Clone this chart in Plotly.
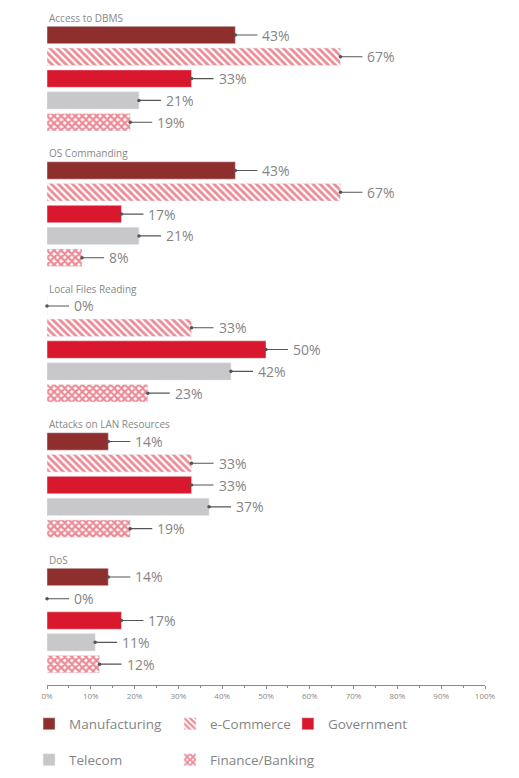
import plotly.graph_objects as go

groups = ["Access to DBMS", "OS Commanding", "Local Files Reading", "Attacks on LAN Resources", "DoS"]
sectors = ["Manufacturing", "e-Commerce", "Government", "Telecom", "Finance/Banking"]
manufacturing = [43, 43, 0, 14, 14]
ecommerce = [67, 67, 33, 33, 0]
government = [33, 17, 50, 33, 17]
telecom = [21, 21, 42, 37, 11]
finance = [19, 8, 23, 19, 12]
tick_vals = [0, 10, 20, 30, 40, 50, 60, 70, 80, 90, 100]
tick_text = [f"{v}%" for v in tick_vals]

series = [manufacturing, ecommerce, government, telecom, finance]

RED = "#D9182D"
styles = [
    dict(color="#8E2F2E"),
    dict(color="white", pattern=dict(shape="\\", fgcolor=RED, bgcolor="white", size=5, solidity=0.55)),
    dict(color=RED),
    dict(color="#C8C8CA"),
    dict(color="white", pattern=dict(shape="x", fgcolor=RED, bgcolor="white", size=5, solidity=0.7)),
]

PITCH = 6.215
def pos(g, i):
    return g * PITCH + i

legend_pos = [(-0.041, -0.0578), (0.281, -0.0578), (0.550, -0.0578),
              (-0.041, -0.111), (0.281, -0.111)]

fig = go.Figure()
annotations = []
for i, (name, vals, st) in enumerate(zip(sectors, series, styles)):
    lg = "legend" if i == 0 else f"legend{i+1}"
    fig.add_trace(go.Bar(
        name=name, orientation="h",
        x=vals, y=[pos(g, i) for g in range(len(groups))],
        width=0.8, marker=st, legend=lg,
        hoverinfo="skip",
    ))
    for g, v in enumerate(vals):
        annotations.append(dict(
            x=v, y=pos(g, i), xref="x", yref="y",
            text=f"{v}%", showarrow=True, ax=25, ay=0,
            xanchor="left", yanchor="middle",
            arrowhead=6, arrowsize=0.8, arrowwidth=1.1, arrowcolor="#555555",
            startstandoff=3,
            font=dict(family="Open Sans", size=14, color="#858585"),
        ))

for g, title in enumerate(groups):
    annotations.append(dict(
        x=0, y=g * PITCH - 0.78, xref="x", yref="y",
        text=title, showarrow=False, xanchor="left", yanchor="middle",
        font=dict(family="Open Sans", size=10, color="#888888"),
    ))

layout_legends = {}
for i, (lx, ly) in enumerate(legend_pos):
    key = "legend" if i == 0 else f"legend{i+1}"
    layout_legends[key] = dict(
        x=lx, y=ly, xanchor="left", yanchor="middle",
        xref="paper", yref="paper",
        orientation="h", bgcolor="rgba(0,0,0,0)",
        font=dict(family="Open Sans", size=13.5, color="#858585"),
        itemwidth=30,
    )

fig.update_layout(
    width=511, height=770,
    margin=dict(l=39, r=34, t=2, b=93, autoexpand=False),
    paper_bgcolor="white", plot_bgcolor="white",
    barmode="overlay",
    showlegend=True,
    annotations=annotations,
    xaxis=dict(
        range=[0, 100], tickvals=tick_vals, ticktext=tick_text,
        showgrid=False, zeroline=False,
        showline=True, linecolor="#8a8a8a", linewidth=1,
        ticks="outside", ticklen=3, tickcolor="#8a8a8a",
        minor=dict(dtick=5, ticks="outside", ticklen=2, tickcolor="#8a8a8a"),
        tickfont=dict(family="Open Sans", size=8, color="#888888"),
        fixedrange=True,
    ),
    yaxis=dict(
        range=[29.817, -1.147], visible=False, showgrid=False, zeroline=False,
        fixedrange=True,
    ),
    **layout_legends,
)

fig.write_html("out.html")
